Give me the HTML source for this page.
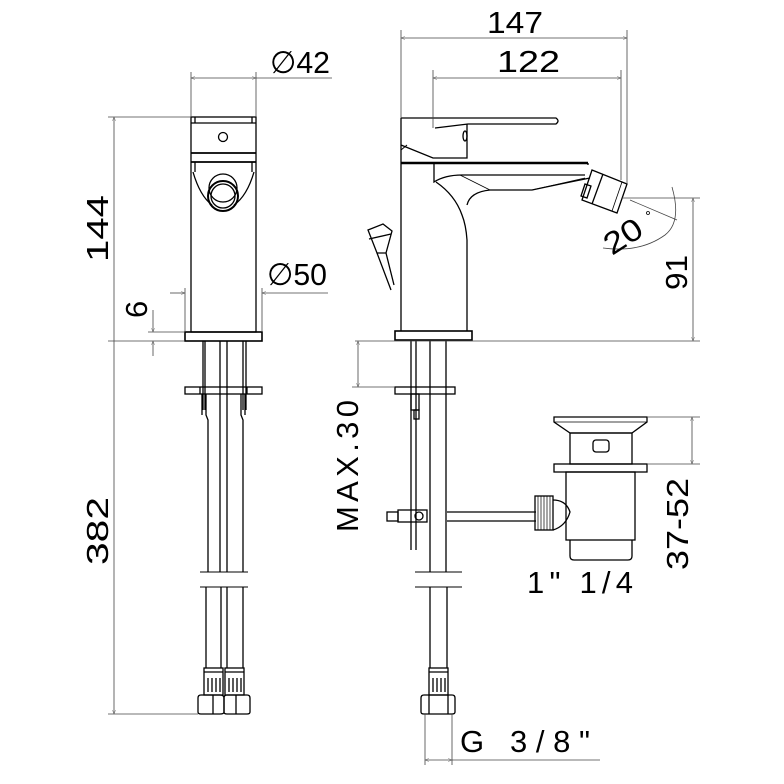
<!DOCTYPE html>
<html><head><meta charset="utf-8"><style>
html,body{margin:0;padding:0;background:#fff;}
svg{display:block;}
text{font-family:"Liberation Sans",sans-serif;fill:#000;}
</style></head><body>
<svg width="784" height="784" viewBox="0 0 784 784" xmlns="http://www.w3.org/2000/svg">
<defs>
<marker id="a" viewBox="0 0 10 10" refX="10" refY="5" markerWidth="7" markerHeight="5" orient="auto-start-reverse"><path d="M0,1 L10,5 L0,9" fill="none" stroke="#555" stroke-width="1"/></marker>
</defs>
<g fill="none" stroke="#000" stroke-width="1.3">
<rect x="191" y="117" width="65" height="215"/>
<line x1="191" y1="123" x2="256" y2="123"/>
<line x1="195" y1="117" x2="195" y2="123"/><line x1="252" y1="117" x2="252" y2="123"/>
<line x1="191" y1="153" x2="256" y2="153" stroke-width="1.8"/>
<line x1="191" y1="162" x2="256" y2="162" stroke-width="1.8"/>
<line x1="195" y1="162" x2="195" y2="172"/><line x1="252" y1="162" x2="252" y2="172"/>
<circle cx="223" cy="137" r="4.5"/>
<path d="M193,172 Q200,196 212,205 M254,172 Q247,196 234,205"/>
<circle cx="223" cy="188" r="14"/>
<circle cx="223" cy="196" r="15" stroke-width="2"/>
<circle cx="223" cy="196" r="12"/>
<rect x="185" y="332" width="77" height="9" stroke-width="1.6"/>
<line x1="203" y1="341" x2="203" y2="410"/><line x1="205" y1="341" x2="205" y2="410"/>
<line x1="243" y1="341" x2="243" y2="410"/><line x1="246" y1="341" x2="246" y2="410"/>
<line x1="220" y1="341" x2="220" y2="572"/><line x1="227" y1="341" x2="227" y2="572"/>
<rect x="185" y="387" width="77" height="7"/>
<line x1="200" y1="387" x2="200" y2="394"/><line x1="247" y1="387" x2="247" y2="394"/>
<path d="M206,394 V415 L208,420 V572 M202,394 V415 M241,394 V415 L243,420 V572 M245,394 V415"/>
<path d="M200,572 H248 M200,587 H248" stroke-width="1"/>
<line x1="206" y1="587" x2="206" y2="668"/><line x1="221" y1="587" x2="221" y2="668"/>
<line x1="227" y1="587" x2="227" y2="668"/><line x1="243" y1="587" x2="243" y2="668"/>
<rect x="204" y="668" width="19" height="27"/><rect x="225" y="668" width="19" height="27"/>
<path d="M204,672 H223 M225,672 H244 M208,678 V692 M212,678 V692 M216,678 V692 M220,678 V692 M229,678 V692 M233,678 V692 M237,678 V692 M241,678 V692"/>
<path d="M198,698 Q198,695 201,695 H220 Q224,695 224,698 V712 Q224,714 220,714 H201 Q198,714 198,712 Z"/>
<path d="M224,698 Q224,695 227,695 H247 Q250,695 250,698 V712 Q250,714 247,714 H227 Q224,714 224,712 Z"/>
<line x1="213" y1="695" x2="213" y2="714"/><line x1="236" y1="695" x2="236" y2="714"/>

<path d="M401,118 H556 Q560,121 556,124 H468 L435,128"/>
<path d="M401,118 V331 M401,145 L433,158 H467 V124"/>
<path d="M401,150 L407,145" stroke-width="1"/>
<ellipse cx="465" cy="136" rx="2" ry="5"/>
<line x1="401" y1="163" x2="588" y2="163" stroke-width="2.6"/>
<line x1="588" y1="163" x2="588" y2="165"/>
<path d="M434,164 V182 Q445,175 462,175 H585"/>
<path d="M436,182 Q455,195 462,215 Q466,225 467,240 V331 M467,205 Q470,192 490,190 H532 Q560,184 590,178"/>
<path d="M460,175 L490,190 M532,190 L585,178" stroke-width="0.8"/>
<polygon points="592,170 627,184 617,213 582,200"/>
<line x1="603" y1="174" x2="592" y2="204"/>
<line x1="622" y1="182" x2="612" y2="211" stroke-width="0.8"/>
<polygon points="585,184 591,186 587,198 581,196"/>
<rect x="395" y="331" width="77" height="9" stroke-width="1.6"/>
<path d="M368,230 L383,224 L392,231 L386,253 L377,253 Z M369,239 L391,234"/>
<path d="M377,253 L391,290 M386,253 L394,285"/>
<line x1="430" y1="341" x2="430" y2="572"/><line x1="446" y1="341" x2="446" y2="572"/>
<line x1="411" y1="341" x2="411" y2="550"/><line x1="416" y1="341" x2="416" y2="550"/>
<rect x="395" y="387" width="60" height="7"/>
<rect x="411" y="394" width="8" height="16"/><rect x="414" y="410" width="5" height="9"/>
<rect x="387" y="512" width="11" height="9"/><rect x="398" y="510" width="29" height="12"/>
<circle cx="419" cy="516" r="4"/>
<path d="M447,512 H536 M447,521 H536"/>
<path d="M415,572 H462 M415,587 H462" stroke-width="1"/>
<line x1="430" y1="587" x2="430" y2="668"/><line x1="447" y1="587" x2="447" y2="668"/>
<rect x="429" y="668" width="19" height="27"/>
<path d="M429,672 H448 M433,678 V692 M437,678 V692 M441,678 V692 M445,678 V692"/>
<path d="M421,698 Q421,695 424,695 H452 Q455,695 455,698 V712 Q455,714 452,714 H424 Q421,714 421,712 Z"/>
<line x1="429" y1="695" x2="429" y2="714"/><line x1="448" y1="695" x2="448" y2="714"/>
<path d="M554,417 H647 V422 L632,433 H570 L554,422 Z"/>
<line x1="554" y1="422" x2="647" y2="422" stroke-width="0.8"/>
<rect x="570" y="433" width="62" height="31"/>
<rect x="593" y="440" width="16" height="12" rx="3"/>
<rect x="554" y="464" width="93" height="8"/>
<rect x="566" y="472" width="69" height="68"/>
<path d="M570,540 V556 Q570,560 574,560 H628 Q632,560 632,556 V540"/>
<path d="M553,500 Q566,500 570,512 Q566,526 553,530"/>
<rect x="535" y="496" width="18" height="34"/>
<path d="M538,496 V530 M541,496 V530 M544,496 V530 M547,496 V530 M550,496 V530" stroke-width="0.7"/>
</g>

<g fill="none" stroke="#444" stroke-width="0.8">
<line x1="114" y1="117" x2="114" y2="714" marker-start="url(#a)" marker-end="url(#a)"/>
<line x1="108" y1="117" x2="191" y2="117"/>
<line x1="108" y1="341" x2="185" y2="341"/>
<line x1="108" y1="714" x2="198" y2="714"/>
<line x1="191" y1="72" x2="191" y2="117"/><line x1="256" y1="72" x2="256" y2="117"/>
<line x1="191" y1="78" x2="256" y2="78" marker-start="url(#a)" marker-end="url(#a)"/>
<line x1="256" y1="78" x2="332" y2="78"/>
<line x1="185" y1="288" x2="185" y2="332"/><line x1="262" y1="288" x2="262" y2="332"/>
<line x1="170" y1="293" x2="185" y2="293" marker-end="url(#a)"/>
<line x1="262" y1="293" x2="328" y2="293" marker-start="url(#a)"/>
<line x1="148" y1="332" x2="185" y2="332"/>
<line x1="153" y1="310" x2="153" y2="332" marker-end="url(#a)"/>
<line x1="153" y1="356" x2="153" y2="341" marker-end="url(#a)"/>
<line x1="401" y1="30" x2="401" y2="118"/><line x1="627" y1="30" x2="627" y2="184"/>
<line x1="401" y1="38" x2="627" y2="38" marker-start="url(#a)" marker-end="url(#a)"/>
<line x1="433" y1="70" x2="433" y2="128"/><line x1="621" y1="70" x2="621" y2="180"/>
<line x1="433" y1="78" x2="621" y2="78" marker-start="url(#a)" marker-end="url(#a)"/>
<line x1="355" y1="341" x2="700" y2="341"/>
<line x1="622" y1="198" x2="700" y2="198"/>
<line x1="693" y1="198" x2="693" y2="341" marker-start="url(#a)" marker-end="url(#a)"/>
<line x1="630" y1="200" x2="677" y2="220"/>
<path d="M672,187 Q682,222 665,235 Q640,253 603,248"/>
<line x1="358" y1="341" x2="358" y2="387" marker-start="url(#a)" marker-end="url(#a)"/>
<line x1="352" y1="387" x2="395" y2="387"/>
<line x1="647" y1="417" x2="700" y2="417"/><line x1="647" y1="464" x2="700" y2="464"/>
<line x1="692" y1="417" x2="692" y2="464" marker-start="url(#a)" marker-end="url(#a)"/>
<line x1="425" y1="714" x2="425" y2="765"/><line x1="452" y1="714" x2="452" y2="765"/>
<line x1="425" y1="760" x2="452" y2="760" marker-start="url(#a)" marker-end="url(#a)"/>
<line x1="452" y1="760" x2="600" y2="760"/>
</g>
<circle cx="648" cy="213" r="1.5" fill="none" stroke="#000" stroke-width="0.8"/>

<g font-size="31">
<text x="270" y="73" textLength="60" lengthAdjust="spacingAndGlyphs">&#x2205;42</text>
<text x="267" y="285" textLength="60" lengthAdjust="spacingAndGlyphs">&#x2205;50</text>
<text transform="translate(108,262) rotate(-90)" textLength="67" lengthAdjust="spacingAndGlyphs">144</text>
<text transform="translate(108,565) rotate(-90)" textLength="68" lengthAdjust="spacingAndGlyphs">382</text>
<text transform="translate(147,318) rotate(-90)">6</text>
<text x="487" y="33" textLength="56" lengthAdjust="spacingAndGlyphs">147</text>
<text x="497" y="72" textLength="63" lengthAdjust="spacingAndGlyphs">122</text>
<text transform="translate(612,256) rotate(-33)" textLength="40" lengthAdjust="spacingAndGlyphs">20</text>
<text transform="translate(687,290) rotate(-90)" textLength="35" lengthAdjust="spacingAndGlyphs">91</text>
<text transform="translate(358,532) rotate(-90)" textLength="132" lengthAdjust="spacing">MAX.30</text>
<text transform="translate(688,570) rotate(-90)" textLength="92" lengthAdjust="spacingAndGlyphs">37-52</text>
<text x="527" y="593" textLength="106" lengthAdjust="spacing">1"  1/4</text>
<text x="460" y="752" textLength="130" lengthAdjust="spacing">G 3/8"</text>
</g>
</svg>
</body></html>
